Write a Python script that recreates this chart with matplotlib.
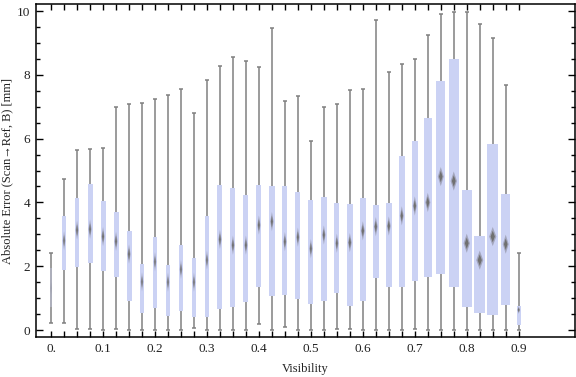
import numpy as np
import matplotlib
matplotlib.use("Agg")

import matplotlib.pyplot as plt
from matplotlib.patches import Polygon


# visibility bins (box centres)
visibility = [round(0.025 * i, 3) for i in range(37)]

# whisker ends, quartiles and medians [mm]
whisker_low = [
    0.21, 0.23, 0.02, 0.02, 0.00, 0.02, 0.00, 0.00, 0.00, 0.00,
    0.00, 0.05, 0.00, 0.00, 0.00, 0.00, 0.19, 0.00, 0.08, 0.00,
    0.00, 0.00, 0.02, 0.02, 0.00, 0.00, 0.00, 0.00, 0.02, 0.00,
    0.00, 0.00, 0.00, 0.00, 0.00, 0.00, 0.00
]
q1 = [
    0.71, 1.88, 1.98, 2.09, 1.86, 1.67, 0.92, 0.52, 0.68, 0.44,
    0.61, 0.40, 0.40, 0.65, 0.73, 0.89, 1.36, 1.07, 1.10, 0.96,
    0.83, 0.92, 1.17, 0.76, 0.92, 1.64, 1.36, 1.34, 1.55, 1.67,
    1.76, 1.34, 0.73, 0.54, 0.48, 0.77, 0.16
]
median = [
    1.31, 2.80, 3.13, 3.16, 2.93, 2.78, 2.38, 1.51, 2.14, 1.50,
    1.90, 1.50, 2.19, 2.84, 2.66, 2.66, 3.29, 3.40, 2.77, 2.91,
    2.55, 2.98, 2.72, 2.74, 3.11, 3.24, 3.26, 3.58, 3.89, 4.00,
    4.81, 4.67, 2.72, 2.19, 2.93, 2.69, 0.63
]
q3 = [
    1.93, 3.57, 4.14, 4.58, 4.03, 3.70, 3.11, 2.06, 2.91, 2.03,
    2.66, 2.27, 3.57, 4.54, 4.44, 4.23, 4.55, 4.51, 4.51, 4.33,
    4.07, 4.18, 3.97, 3.95, 4.13, 3.92, 3.97, 5.45, 5.92, 6.65,
    7.81, 8.49, 4.39, 2.95, 5.83, 4.26, 0.75
]
whisker_high = [
    2.40, 4.72, 5.63, 5.66, 5.71, 6.98, 7.07, 7.11, 7.24, 7.36,
    7.54, 6.79, 7.84, 8.28, 8.57, 8.42, 8.26, 9.46, 7.17, 7.34,
    5.93, 6.98, 7.07, 7.52, 7.57, 9.71, 8.09, 8.34, 8.49, 9.24,
    9.90, 9.98, 9.98, 9.58, 9.14, 7.67, 2.40
]
# relative box weight (box width follows the bin size)
bin_weight = [
    2.0, 4.0, 4.7, 5.0, 5.0, 5.0, 5.0, 4.0, 4.0, 4.0,
    4.0, 4.0, 4.0, 5.0, 5.0, 5.0, 5.0, 5.3, 5.0, 5.0,
    5.0, 5.3, 5.0, 6.0, 6.3, 6.0, 6.0, 6.0, 6.3, 8.0,
    9.3, 10.0, 10.0, 11.0, 11.3, 9.3, 4.3
]

BOX_COLOR = "#cbd2f4"
WHISKER_COLOR = "#808080"
FONT = ["Liberation Serif", "DejaVu Serif"]
TEXT_COLOR = "#222222"

plt.rcParams["font.family"] = FONT

fig = plt.figure(figsize=(5.76, 3.77), dpi=100)
ax = fig.add_axes([0.0625, 0.106, 0.9355, 0.8834])

x_min, x_max = -0.029, 1.008
y_min, y_max = -0.22, 10.22
ax.set_xlim(x_min, x_max)
ax.set_ylim(y_min, y_max)

# one pixel in data units
px_x = (x_max - x_min) / (0.9355 * 576)

for i, x in enumerate(visibility):
    w = bin_weight[i] * px_x
    alpha = 0.35 if i == 0 else 1.0

    ax.vlines(x, whisker_low[i], whisker_high[i], color=WHISKER_COLOR,
              linewidth=1.1, zorder=1)
    ax.hlines([whisker_low[i], whisker_high[i]], x - 2 * px_x, x + 2 * px_x,
              color=WHISKER_COLOR, linewidth=1.1, zorder=1)

    ax.bar(x, q3[i] - q1[i], bottom=q1[i], width=w, color=BOX_COLOR,
           alpha=alpha, linewidth=0, zorder=2)

    # diamond median marker, kept inside the box
    hh = min(0.3, q3[i] - median[i], median[i] - q1[i])
    hw = 0.32 * w
    for scale, col in ((1.0, "#a3a6bd"), (0.6, "#707070")):
        pts = [
            (x, median[i] + hh * scale),
            (x + hw * scale, median[i]),
            (x, median[i] - hh * scale),
            (x - hw * scale, median[i]),
        ]
        ax.add_patch(Polygon(pts, closed=True, facecolor=col,
                             edgecolor="none", alpha=alpha, zorder=3))

# frame and ticks
for side in ax.spines.values():
    side.set_linewidth(1.1)
    side.set_color("black")

ax.set_xticks(visibility, minor=True)
ax.set_xticks([round(0.1 * k, 1) for k in range(10)])
ax.set_xticklabels(["0."] + ["%.1f" % (0.1 * k) for k in range(1, 10)])
ax.set_yticks([0, 2, 4, 6, 8, 10])
ax.set_yticks(np.arange(0, 10.01, 0.5), minor=True)

ax.tick_params(axis="both", which="both", direction="in",
               top=True, right=True, color="black", width=1.0)
ax.tick_params(axis="x", which="both", length=4.5)
ax.tick_params(axis="y", which="major", length=5)
ax.tick_params(axis="y", which="minor", length=3)
ax.tick_params(axis="both", which="major", labelsize=9.5,
               labelcolor=TEXT_COLOR, pad=4)

ax.set_xlabel("Visibility", fontsize=9, color=TEXT_COLOR, labelpad=6)
ax.set_ylabel("Absolute Error (Scan\u2192Ref, B) [mm]", fontsize=9,
              color=TEXT_COLOR)
ax.yaxis.set_label_coords(-0.043, 0.5)

fig.savefig("out.png", dpi=100)
plt.close(fig)
